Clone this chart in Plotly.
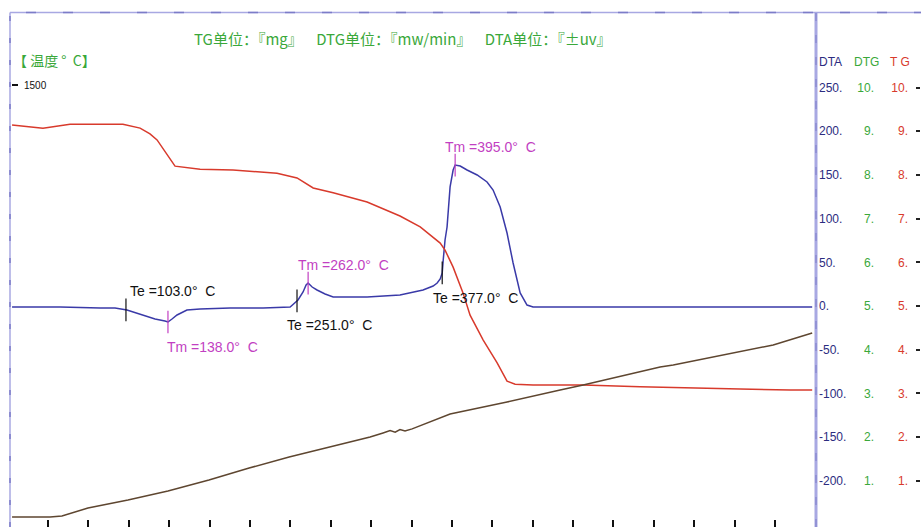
import numpy as np
import plotly.graph_objects as go

W, H = 921, 527

# ---------------- data (time in min) ----------------
dta_t = [0.22, 2.60, 4.58, 5.32, 5.91, 6.70, 7.30, 7.79, 7.94, 8.14, 8.39, 8.88, 9.53, 11.02,
         12.65, 13.99, 14.38, 14.63, 14.78, 14.88, 15.08, 15.32, 15.72, 16.12, 17.80, 19.43,
         20.57, 21.07, 21.27, 21.42, 21.52, 21.57, 21.66, 21.76, 21.91, 22.06, 22.16, 22.41,
         22.75, 23.25, 23.74, 24.04, 24.39, 24.73, 25.03, 25.38, 25.72, 26.02, 29.34, 34.29, 39.84]
dta_v = [-1.1, -1.1, -2.3, -2.3, -4.6, -10.3, -14.9, -17.2, -18.3, -14.9, -10.3, -4.6, -3.4, -2.3,
         -2.3, -1.1, 6.9, 16.0, 24.0, 26.3, 21.7, 18.3, 13.7, 10.3, 10.3, 12.6,
         18.3, 22.9, 26.3, 30.9, 37.8, 52.6, 75.5, 90.4, 136.2, 155.6, 161.3, 160.2,
         155.6, 149.9, 141.9, 132.7, 113.3, 83.5, 49.2, 14.9, 1.1, -1.1, -1.1, -1.1, -1.1]

tg_t = [0.22, 1.75, 3.09, 5.71, 6.56, 7.05, 7.40, 7.89, 8.29, 9.53, 11.16, 13.34, 14.33, 15.13,
        16.12, 17.80, 19.43, 20.43, 21.07, 21.42, 21.66, 22.06, 22.55, 22.90, 23.55, 24.24,
        24.73, 25.13, 26.02, 28.50, 31.32, 33.80, 36.27, 38.75, 39.84]
tg_v = [9.14, 9.07, 9.16, 9.16, 9.07, 8.94, 8.80, 8.46, 8.20, 8.13, 8.11, 8.04, 7.93, 7.70,
        7.59, 7.38, 7.06, 6.81, 6.58, 6.44, 6.28, 5.89, 5.30, 4.79, 4.22, 3.70,
        3.28, 3.21, 3.19, 3.19, 3.15, 3.12, 3.10, 3.08, 3.08]

temp_t = [0.22, 2.10, 2.69, 3.98, 5.96, 7.94, 9.97, 11.96, 13.94, 15.97, 17.95, 18.59, 18.94,
          19.19, 19.43, 19.68, 20.03, 21.91, 24.73, 27.36, 28.50, 32.31, 32.96, 37.91, 39.84]
temp_v = [33.9, 33.9, 37.3, 64.5, 91.6, 122.2, 159.5, 200.2, 237.5, 271.5, 305.4, 319.0, 327.0,
          322.0, 331.0, 326.0, 333.0, 383.4, 424.0, 465.0, 482.0, 543.0, 550.0, 617.6, 658.3]

event_t = [5.86, 7.94, 14.33, 14.88, 21.52, 22.16]
event_kind = ["Te", "Tm", "Te", "Tm", "Te", "Tm"]
event_temp = [103.0, 138.0, 251.0, 262.0, 377.0, 395.0]

dta_ticks = [250, 200, 150, 100, 50, 0, -50, -100, -150, -200]
dtg_ticks = [10, 9, 8, 7, 6, 5, 4, 3, 2, 1]
tg_ticks = [10, 9, 8, 7, 6, 5, 4, 3, 2, 1]
temp_ticks = [1500]
time_ticks = list(range(2, 39, 2))

header_text = "TG单位：『mg』    DTG单位：『mw/min』    DTA单位：『±uv』"
temp_label = "【 温度 °  C】"

# ---------------- styles / positions ----------------
BLUE = "#3a3aa8"
RED = "#d83a2c"
BROWN = "#5e4630"
MAG = "#c23fc2"
GREEN = "#3aa83a"
NAVY = "#2c2c80"
LAV = "#a8a8e2"
LAV_D = "#7c7cc8"

label_offsets = [(2, 19), (-3, -25), (-12, -24), (-12, 18), (-11, -25), (-12, 18)]
marker_half = 13.0  # DTA units (~11 px)

fig = go.Figure()

fig.add_trace(go.Scatter(x=temp_t, y=temp_v, yaxis="y4", mode="lines",
                         line=dict(color=BROWN, width=1.5), hoverinfo="skip"))
fig.add_trace(go.Scatter(x=tg_t, y=tg_v, yaxis="y3", mode="lines",
                         line=dict(color=RED, width=1.5), hoverinfo="skip"))
fig.add_trace(go.Scatter(x=dta_t, y=dta_v, yaxis="y", mode="lines",
                         line=dict(color=BLUE, width=1.5), hoverinfo="skip"))
# DTG axis carries no curve in the picture; an empty trace keeps its scale drawn
fig.add_trace(go.Scatter(x=[None], y=[None], yaxis="y2", mode="lines", hoverinfo="skip"))

ev_y = np.interp(event_t, dta_t, dta_v)
for kind, col in (("Te", "#111111"), ("Tm", MAG)):
    xs, ys = [], []
    for t, k, v in zip(event_t, event_kind, ev_y):
        if k == kind:
            xs += [t, t, None]
            ys += [v - marker_half, v + marker_half, None]
    fig.add_trace(go.Scatter(x=xs, y=ys, mode="lines", yaxis="y",
                             line=dict(color=col, width=1.2), hoverinfo="skip"))

annotations = []
for t, k, T, v, (dx, dy) in zip(event_t, event_kind, event_temp, ev_y, label_offsets):
    annotations.append(dict(
        x=t, y=v, xref="x", yref="y", xanchor="left", yanchor="middle",
        xshift=dx, yshift=dy, showarrow=False,
        text=f"{k} ={T:.1f}°  C",
        font=dict(family="Liberation Sans, Arial", size=14,
                  color="#111111" if k == "Te" else MAG)))

annotations += [
    dict(x=192 / W, y=1 - 38 / H, xref="paper", yref="paper", xanchor="left", yanchor="middle",
         showarrow=False, text=header_text,
         font=dict(family="Noto Sans CJK SC", size=15, color=GREEN)),
    dict(x=11 / W, y=1 - 60 / H, xref="paper", yref="paper", xanchor="left", yanchor="middle",
         showarrow=False, text=temp_label,
         font=dict(family="Noto Sans CJK SC", size=14, color=GREEN)),
    dict(x=817 / W, y=1 - 62 / H, xref="paper", yref="paper", xanchor="left", yanchor="middle",
         showarrow=False, text="DTA", font=dict(family="Liberation Sans, Arial", size=12, color=NAVY)),
    dict(x=852 / W, y=1 - 62 / H, xref="paper", yref="paper", xanchor="left", yanchor="middle",
         showarrow=False, text="DTG", font=dict(family="Liberation Sans, Arial", size=12, color=GREEN)),
    dict(x=888 / W, y=1 - 62 / H, xref="paper", yref="paper", xanchor="left", yanchor="middle",
         showarrow=False, text="T G", font=dict(family="Liberation Sans, Arial", size=12, color=RED)),
]

top_y = 1 - 12.5 / H
shapes = [
    dict(type="line", xref="paper", yref="paper", x0=10 / W, x1=10 / W, y0=0, y1=top_y,
         line=dict(color=LAV, width=1.5)),
    dict(type="line", xref="paper", yref="paper", x0=10 / W, x1=10 / W, y0=0, y1=top_y,
         line=dict(color=LAV_D, width=1.5, dash="5px,17px")),
    dict(type="line", xref="paper", yref="paper", x0=10 / W, x1=1, y0=top_y, y1=top_y,
         line=dict(color=LAV, width=1.5)),
    dict(type="line", xref="paper", yref="paper", x0=26 / W, x1=1, y0=top_y, y1=top_y,
         line=dict(color=LAV_D, width=1.5, dash="10px,27px")),
    dict(type="line", xref="paper", yref="paper", x0=816 / W, x1=816 / W, y0=0, y1=top_y,
         line=dict(color=LAV, width=3)),
    dict(type="line", xref="paper", yref="paper", x0=816 / W, x1=816 / W, y0=0, y1=top_y,
         line=dict(color=LAV_D, width=1, dash="8px,14px")),
]

lbl_font = dict(family="Liberation Sans, Arial", size=12)
dta_range = [-221.0 / 0.874, 306.0 / 0.874]
unit_range = [5 + dta_range[0] / 50, 5 + dta_range[1] / 50]

fig.update_layout(
    width=W, height=H, margin=dict(l=0, r=0, t=0, b=0),
    paper_bgcolor="white", plot_bgcolor="white", showlegend=False,
    xaxis=dict(domain=[10 / W, 814 / W], range=[0.118, 39.93], tickvals=time_ticks,
               ticks="inside", ticklen=7, tickwidth=2, tickcolor="#111111",
               showticklabels=False, showgrid=False, zeroline=False, showline=False,
               fixedrange=True),
    yaxis=dict(domain=[0, 1], range=dta_range, anchor="free", position=818 / W, side="right",
               tickvals=dta_ticks, ticktext=[f"{v}." for v in dta_ticks], ticks="",
               tickfont=dict(color=NAVY, **lbl_font), showgrid=False, zeroline=False,
               showline=False, automargin=False),
    yaxis2=dict(overlaying="y", range=unit_range, anchor="free", position=874 / W, side="left",
                tickvals=dtg_ticks, ticktext=[f"{v}." for v in dtg_ticks], ticks="",
                tickfont=dict(color=GREEN, **lbl_font), showgrid=False, zeroline=False,
                showline=False, automargin=False),
    yaxis3=dict(overlaying="y", range=unit_range, anchor="free", position=915 / W, side="left",
                tickvals=tg_ticks, ticktext=[f"{v}." for v in tg_ticks], ticks="inside",
                ticklen=4, tickwidth=2, tickcolor="#222222", ticklabelstandoff=7,
                tickfont=dict(color=RED, **lbl_font), showgrid=False, zeroline=False,
                showline=False, automargin=False),
    yaxis4=dict(overlaying="y", range=[0, 1500 * H / 442.0], anchor="free", position=11 / W,
                side="left", tickvals=temp_ticks, ticktext=["1500"], ticks="inside",
                ticklen=6, tickwidth=2, tickcolor="#111111", ticklabelposition="inside",
                ticklabelstandoff=5, tickfont=dict(family="Liberation Sans, Arial", size=10,
                                                   color="#111111"),
                showgrid=False, zeroline=False, showline=False, automargin=False),
    annotations=annotations, shapes=shapes,
)

fig.write_html("out.html", config={"displayModeBar": False},
               post_script="document.body.style.margin='0';")
